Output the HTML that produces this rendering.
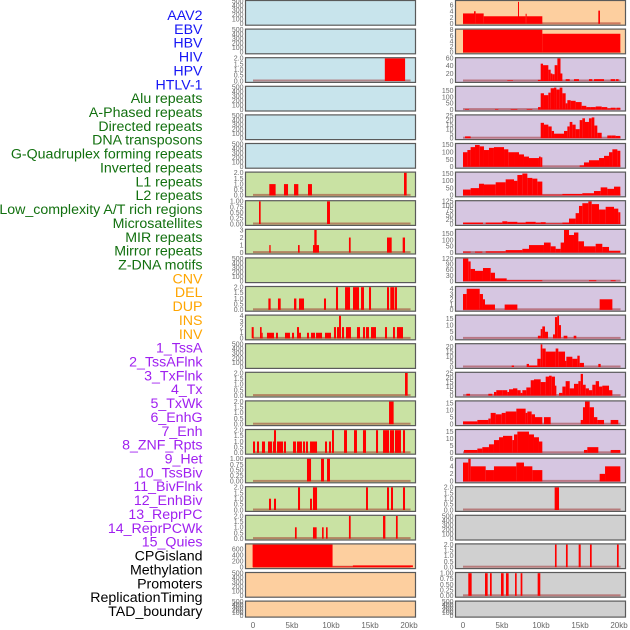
<!DOCTYPE html>
<html><head><meta charset="utf-8"><style>
html,body{margin:0;padding:0;background:#fff;width:630px;height:630px;overflow:hidden}
svg{display:block;font-family:"Liberation Sans",sans-serif}
</style></head><body>
<svg id="chart" width="630" height="630" viewBox="0 0 630 630" xmlns="http://www.w3.org/2000/svg"></svg>
<script>
// ---- feature labels ----
const labelNames = ["AAV2","EBV","HBV","HIV","HPV","HTLV-1","Alu repeats","A-Phased repeats","Directed repeats","DNA transposons","G-Quadruplex forming repeats","Inverted repeats","L1 repeats","L2 repeats","Low_complexity A/T rich regions","Microsatellites","MIR repeats","Mirror repeats","Z-DNA motifs","CNV","DEL","DUP","INS","INV","1_TssA","2_TssAFlnk","3_TxFlnk","4_Tx","5_TxWk","6_EnhG","7_Enh","8_ZNF_Rpts","9_Het","10_TssBiv","11_BivFlnk","12_EnhBiv","13_ReprPC","14_ReprPCWk","15_Quies","CPGisland","Methylation","Promoters","ReplicationTiming","TAD_boundary"];
const labelGroupSizes = [6,13,5,15,5];
const labelGroupColors = ["#1515f5","#12700f","#ffa500","#a020f0","#000000"];
// x ticks
const xTickValues = [0,5,10,15,20];
const xTickLabels = ["0","5kb","10kb","15kb","20kb"];
// tick sets
const T500 = [0,100,200,300,400,500];
const T2 = [0,0.5,1,1.5,2];
const T1 = [0,0.25,0.5,0.75,1];
// ---- left column bars [startKb, endKb, value] ----
const L2 = [[16.9,19.5,2]];
const L6 = [[2.09,2.9,1],[3.97,4.49,1],[5.26,5.81,1],[7.05,7.56,1],[19.36,19.7,2]];
const L7 = [[0.77,0.98,1],[9.49,9.87,1]];
const L8 = [[2.09,2.26,1],[5.77,5.98,1],[7.69,8.46,1],[7.86,8.16,3],[12.3,12.52,2],[17.18,17.78,2],[19.19,19.49,2]];
const L10 = [[1.97,2.26,1],[3.2,3.55,1],[5.26,5.56,1],[5.9,6.54,1],[9.1,9.36,1],[10.64,10.9,2],[11.8,12.44,2],[12.82,13.59,2],[13.85,14.23,2],[14.87,15.13,2],[17.18,17.44,2],[17.6,18.08,2],[18.16,18.46,2]];
const L11 = [[-0.17,0.09,2],[0.9,1.11,2],[1.11,1.24,1],[1.79,2.69,1],[2.95,3.2,1],[4.1,4.74,1],[5.0,5.26,1],[5.64,5.9,2],[5.9,6.15,1],[6.92,7.18,1],[7.44,7.95,1],[8.08,8.85,1],[9.23,10.0,1],[10.38,10.64,2],[10.77,11.03,2],[11.03,11.28,4],[11.41,11.67,2],[11.92,12.56,2],[13.33,13.72,2],[14.1,14.36,2],[14.49,14.87,2],[15.13,15.77,2],[16.92,17.18,2],[17.95,18.2,2],[18.46,19.23,2]];
const L13 = [[19.49,19.83,2]];
const L14 = [[17.44,18.03,2]];
const L15 = [[0,0.26,1],[0.51,0.77,1],[1.15,1.54,1],[1.92,2.44,1],[2.56,2.69,1],[2.69,2.95,2],[3.08,3.85,1],[3.97,4.23,1],[5.13,5.51,1],[5.64,6.28,1],[6.41,6.67,1],[6.79,7.05,1],[7.31,8.21,1],[9.23,9.49,1],[9.74,10.0,1],[10.13,10.38,2],[11.67,12.05,2],[12.95,13.33,2],[14.1,14.49,2],[15.77,16.03,2],[16.67,17.44,2],[17.56,18.08,2],[18.2,18.97,2],[19.23,19.49,2]];
const L16 = [[6.92,7.44,1],[8.72,9.1,1],[9.49,9.87,1]];
const L17 = [[2.05,2.31,1],[2.69,2.95,1],[5.77,6.03,2],[7.31,7.56,1],[7.69,8.21,2],[14.49,14.74,2],[17.18,17.44,2],[17.69,17.95,2],[19.23,19.49,2]];
const L18 = [[5.38,5.6,1],[7.69,8.16,1],[8.85,9.06,1],[9.36,9.57,1],[12.3,12.52,2],[16.67,16.97,2],[18.33,18.55,2]];
const L19 = [[-0.05,10.2,750],[10.2,12.8,25],[12.8,20.5,60]];
// ---- right column bars ----
const R0 = [[0,1.41,3.3],[1.41,1.62,4],[1.62,2.65,3.3],[2.65,7.05,2.4],[7.05,7.18,7],[7.18,8.03,2.4],[8.03,8.16,3.2],[8.16,10.17,2.4],[17.35,17.56,4.2]];
const R1 = [[0,10.17,8],[10.17,20.17,6.6]];
const R2 = [[5.68,6.41,1.5],[9.6,9.96,3],[9.96,10.26,46],[10.26,10.94,42],[10.94,11.24,30],[11.24,11.45,20],[11.45,11.75,18],[11.75,12.1,42],[12.1,12.5,60],[12.5,12.74,20],[13.16,13.68,5],[14.23,14.87,5],[16.15,16.58,5],[16.8,18.08,5],[18.93,19.5,5],[19.6,19.95,5]];
const R3 = [[0.26,0.77,5],[4.1,4.53,5],[6.11,6.97,5],[8.16,8.89,5],[9.62,9.96,20],[9.96,10.38,130],[10.38,10.94,115],[10.94,11.24,135],[11.24,11.67,170],[11.67,11.97,175],[11.97,12.39,160],[12.39,12.74,175],[12.74,13.16,130],[13.16,13.38,50],[13.38,13.8,75],[13.8,14.44,70],[14.44,15.21,60],[15.21,15.81,30],[15.81,16.37,20],[16.37,17.01,20],[17.01,17.78,25],[17.78,18.5,20],[18.5,18.93,10],[18.93,19.57,15],[19.66,20.17,15]];
const R4 = [[0.26,0.98,2],[9.96,10.38,17],[10.38,10.94,15],[10.94,11.37,13],[11.37,11.67,8],[11.67,12.95,5],[12.95,13.38,8],[13.38,13.68,13],[13.68,14.02,18],[14.02,14.44,15],[14.44,14.96,10],[14.96,15.3,20],[15.3,15.64,22],[15.64,16.15,18],[16.15,16.5,22],[16.5,16.84,23],[16.84,17.22,14],[17.22,17.78,6],[18.5,19.02,3],[19.02,19.57,3],[19.57,20.17,2.5]];
const R5 = [[0,0.56,100],[0.56,0.98,115],[0.98,1.54,135],[1.54,2.14,150],[2.14,2.69,140],[2.69,3.33,115],[3.33,3.97,130],[3.97,5.26,135],[5.26,5.81,120],[5.81,6.54,100],[6.54,7.18,100],[7.18,7.82,85],[7.82,8.46,70],[8.46,9.74,60],[9.74,9.96,70],[9.96,10.17,65],[14.96,15.51,10],[15.51,16.15,30],[16.15,17.44,45],[17.44,18.08,60],[18.08,18.72,75],[18.72,19.15,100],[19.15,19.79,120],[19.79,20.17,110]];
const R6 = [[0,0.98,40],[0.98,2.05,50],[2.05,2.69,80],[2.69,4.19,75],[4.19,5.47,90],[5.47,6.54,110],[6.54,6.97,100],[6.97,7.61,140],[7.61,8.25,150],[8.25,8.89,120],[8.89,9.53,115],[9.53,10.17,95],[10.17,12.74,5],[12.74,15.3,10],[15.3,16.79,15],[16.79,17.65,30],[17.65,18.5,55],[18.5,19.36,45],[19.36,20.17,60]];
const R7 = [[0,2.56,8],[2.91,5.04,8],[5.04,5.68,15],[5.68,6.97,12],[6.97,8.03,8],[8.03,9.32,12],[9.32,9.96,8],[9.96,10.6,10],[10.6,12.74,3],[12.74,13.59,8],[13.59,14.44,30],[14.44,14.87,60],[14.87,15.3,100],[15.3,16.07,115],[16.07,16.5,125],[16.5,17.44,110],[17.44,18.29,80],[18.29,19.36,95],[19.36,19.91,85],[19.91,20.17,65]];
const R8 = [[0,0.98,8],[1.54,2.48,8],[2.91,5.47,10],[5.47,7.61,20],[7.61,8.46,30],[8.46,10.38,60],[10.38,11.24,80],[11.24,11.88,50],[11.88,12.52,30],[12.52,12.95,80],[12.95,13.59,180],[13.59,14.23,140],[14.23,14.79,160],[14.79,15.51,90],[15.51,17.01,50],[17.01,17.86,70],[17.86,18.72,45],[18.72,20.17,15]];
const R9 = [[0,0.68,120],[0.68,0.98,105],[0.98,1.54,65],[1.54,2.56,55],[2.56,3.55,70],[3.55,4.1,45],[4.1,5.6,15],[5.6,10.17,5],[16.15,17.09,5],[18.93,19.57,5]];
const R10 = [[0,0.47,3],[0.47,2.14,4],[2.14,2.56,3],[2.56,2.82,2],[2.82,4.1,1],[5.34,6.97,1],[17.52,19.15,2]];
const R11 = [[9.6,9.96,2],[9.96,10.17,7],[10.17,10.51,9],[10.51,10.9,5],[11.54,11.79,3],[11.79,12.09,16],[12.09,12.31,17],[12.31,12.56,10],[12.9,13.38,2],[14.19,14.53,2]];
const R12 = [[6.24,6.54,1.5],[8.16,8.46,3],[8.46,9.23,1.5],[9.23,9.53,1.5],[9.53,9.96,8],[9.96,10.17,22],[10.17,10.6,18],[10.6,11.88,15],[11.88,12.22,18],[12.22,13.08,15],[13.08,13.25,6],[13.25,14.02,10],[14.02,14.66,8],[14.66,14.96,11],[14.96,15.51,4],[17.35,17.65,3]];
const R13 = [[0.43,0.9,2],[3.25,3.76,2],[3.97,4.27,4],[4.27,5.04,6],[5.04,5.68,6],[5.68,5.9,4],[5.9,6.41,7],[6.41,6.97,8],[6.97,7.39,6],[7.39,7.61,3],[7.61,8.12,6],[8.12,8.68,9],[8.68,9.1,17],[9.1,9.96,18],[9.96,10.6,15],[10.6,11.03,21],[11.03,11.37,22],[11.37,11.79,21],[11.79,11.97,11],[12.31,12.74,3],[12.74,13.16,10],[13.16,13.68,16],[13.68,14.23,8],[14.23,14.79,13],[14.79,15.09,16],[15.09,15.38,24],[15.38,15.73,12],[15.73,16.15,8],[16.15,16.58,6],[16.58,17.01,12],[17.01,17.44,16],[17.44,17.86,10],[17.86,18.72,11],[18.72,19.15,6]];
const R14 = [[0,1.84,2],[1.84,3.25,3],[3.25,3.55,4],[3.55,4.19,8],[4.19,4.96,7],[4.96,5.47,8],[5.47,6.84,9],[6.84,8.03,11],[8.03,8.25,8],[8.25,8.8,9],[8.8,9.23,7],[9.23,10.17,5],[10.38,11.24,5],[15.09,15.38,3],[15.38,15.64,12],[15.64,16.24,16],[16.24,16.79,12],[16.79,17.22,5],[17.22,18.08,3],[18.93,19.91,3]];
const R15 = [[0.13,1.84,2],[1.84,2.48,3],[2.48,3.33,4],[3.33,3.97,6],[3.97,4.62,9],[4.62,5.13,11],[5.13,6.32,12],[6.32,6.54,9],[6.54,6.97,13],[6.97,8.46,15],[8.46,9.1,13],[9.1,9.74,11],[9.74,10.17,8],[15.51,15.94,2],[15.94,17.35,4],[18.93,20.17,2]];
const R16 = [[0,0.68,5],[0.68,0.98,6],[0.98,2.91,4],[2.91,3.97,3],[3.97,6.84,4],[6.84,7.82,5],[7.82,8.89,4],[8.89,10.17,3],[17.52,18.21,2],[18.21,20.17,4]];
const R17 = [[11.75,12.31,2]];
const R19 = [[11.79,12.0,2],[13.2,13.42,2],[14.83,15.09,2],[16.28,16.5,2],[19.74,19.96,2]];
const R20 = [[0.68,1.11,1],[2.82,3.16,1],[3.46,3.68,1],[4.87,5.21,1],[5.51,5.85,1],[6.67,6.88,1],[7.39,7.61,1],[9.57,9.91,1]];

const BLUE="#c8e4ec", GREEN="#c9e2a3", PEACH="#fdcf9f", LAV="#d6c6e1", GRAY="#d0d0d0";
const leftPanels = [
 [BLUE,T500,500,null],[BLUE,T500,500,null],[BLUE,T2,2,L2],[BLUE,T500,500,null],[BLUE,T500,500,null],[BLUE,T500,500,null],
 [GREEN,T2,2,L6],[GREEN,T1,1,L7],[GREEN,[0,1,2,3],3,L8],[GREEN,T500,500,null],[GREEN,T2,2,L10],[GREEN,[0,1,2,3,4],4,L11],
 [GREEN,T500,500,null],[GREEN,T2,2,L13],[GREEN,T2,2,L14],[GREEN,T2,2,L15],[GREEN,T1,1,L16],[GREEN,T2,2,L17],[GREEN,T2,2,L18],
 [PEACH,[0,200,400,600],750,L19],[PEACH,T500,500,null],[PEACH,T500,500,null]];
const rightPanels = [
 [PEACH,[0,2,4,6],7.2,R0],[PEACH,[0,2,4,6,8],8,R1],[LAV,[0,20,40,60],60,R2],[LAV,[0,50,100,150],180,R3],[LAV,[0,5,10,15,20,25],25,R4],
 [LAV,[0,50,100,150],155,R5],[LAV,[0,50,100,150],155,R6],[LAV,[0,25,50,75,100,125],125,R7],[LAV,[0,50,100,150],180,R8],
 [LAV,[0,30,60,90,120],120,R9],[LAV,[0,1,2,3,4],4.3,R10],[LAV,[0,5,10,15],17,R11],[LAV,[0,5,10,15,20],22,R12],
 [LAV,[0,5,10,15,20,25],25,R13],[LAV,[0,5,10,15],16,R14],[LAV,[0,5,10,15],16,R15],[LAV,[0,2,4,6],6,R16],
 [GRAY,T2,2,R17],[GRAY,T500,500,null],[GRAY,T2,2,R19],[GRAY,T1,1,R20],[GRAY,T500,500,null]];

const NS="http://www.w3.org/2000/svg";
const svg=document.getElementById('chart');
function mk(tag,attrs,parent){const e=document.createElementNS(NS,tag);for(const k in attrs)e.setAttribute(k,attrs[k]);(parent||svg).appendChild(e);return e;}
function fmt(t,ticks){const step=ticks[1]-ticks[0];if(step===0.25)return t.toFixed(2);if(step===0.5)return t.toFixed(1);return String(t);}

// labels
let idx=0;
labelGroupSizes.forEach((n,g)=>{for(let i=0;i<n;i++){const t=mk('text',{x:202.5,y:(20+idx*13.86).toFixed(1),'text-anchor':'end','font-size':'14.2',fill:labelGroupColors[g]});


t.textContent=labelNames[idx];idx++;}});

function drawColumn(panels,left,x0,colName){
 const pw=170, px=(kb)=>x0+kb*7.8;
 panels.forEach((p,i)=>{
  const top=i*28.6+0.5, h=(i===21)?16:24.7;
  const g=mk('g',{});
  
  
  mk('rect',{x:left,y:top,width:pw,height:h,fill:p[0],stroke:'#5a5a5a','stroke-width':1.2},g);
  const y0=top+h-1.4, yt=top+0.7;
  const py=(v)=>y0-v/p[2]*(y0-yt);
  p[1].forEach(t=>{const tx=mk('text',{x:left-2,y:(py(t)+2.3).toFixed(1),'text-anchor':'end','font-size':'7',fill:'#6a6a6a'},g);
   
   
   tx.textContent=fmt(t,p[1]);});
  if(p[3]){
   const b=mk('rect',{x:px(0),y:y0-1.5,width:px(20.2)-px(0),height:2,fill:'rgba(150,20,20,0.45)'},g);
   
   
   p[3].forEach(d=>{const r=mk('rect',{x:px(d[0]).toFixed(2),y:py(d[2]).toFixed(2),width:Math.max(1,px(d[1])-px(d[0])).toFixed(2),height:(y0-py(d[2])).toFixed(2),fill:'#ff0000'},g);
    
    });
  }
 });
 xTickValues.forEach((v,k)=>{const t=mk('text',{x:px(v),y:628,'text-anchor':'middle','font-size':'8',fill:'#666'});
  
  
  t.textContent=xTickLabels[k];});
}
drawColumn(leftPanels,245.5,253,'left');
drawColumn(rightPanels,455.5,463,'right');
</script>
</body></html>
